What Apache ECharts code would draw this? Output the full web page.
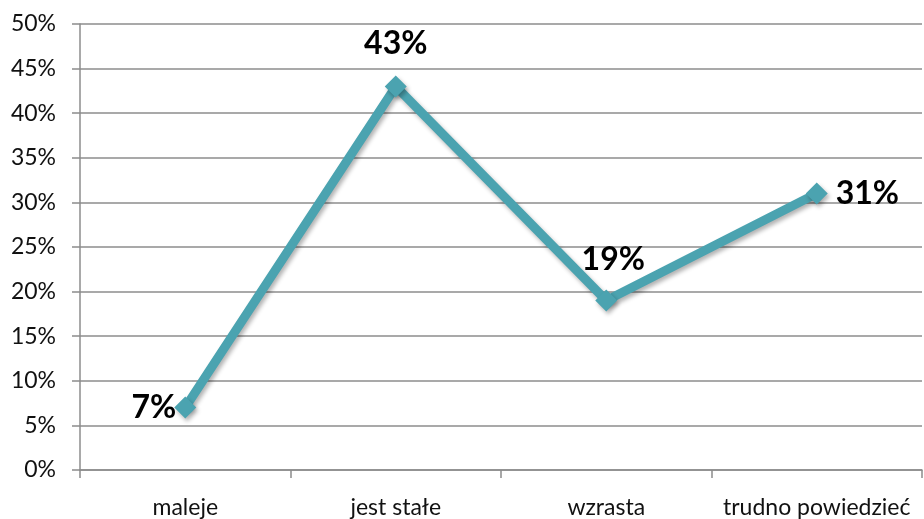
<!DOCTYPE html>
<html><head><meta charset="utf-8">
<script src="https://cdn.jsdelivr.net/npm/echarts@6/dist/echarts.min.js"></script>
<style>html,body{margin:0;padding:0;background:#fff}#c{width:924px;height:519px}</style>
</head><body><div id="c"></div>
<script>
const categories = ['maleje', 'jest stałe', 'wzrasta', 'trudno powiedzieć'];
const values = [7, 43, 19, 31];
const labelPositions = ['left', 'top', 'top', 'right'];
const labelDistances = [-2, 16, 14, 8];
const labelOffsets = [[0, 0], [0, 0], [7, 0], [0, 0]];

const chart = echarts.init(document.getElementById('c'));
const font = 'Lato, "Open Sans", sans-serif';
chart.setOption({
  animation: false,
  grid: { left: 80, right: 2, top: 24, bottom: 48 },
  xAxis: {
    type: 'category', data: categories, boundaryGap: true,
    axisLine: { lineStyle: { color: '#8c8c8c', width: 1.5 } },
    axisTick: { show: true, interval: 0, length: 8, lineStyle: { color: '#8c8c8c', width: 1.5 } },
    axisLabel: { interval: 0, color: '#111', fontSize: 23, fontFamily: font, margin: 26 }
  },
  yAxis: {
    type: 'value', min: 0, max: 50, interval: 5,
    axisLine: { show: true, lineStyle: { color: '#8c8c8c', width: 1.5 } },
    axisTick: { show: true, length: 8, lineStyle: { color: '#8c8c8c', width: 1.5 } },
    splitLine: { lineStyle: { color: '#8c8c8c', width: 1.5 } },
    axisLabel: { formatter: '{value}%', color: '#111', fontSize: 23, fontFamily: font, margin: 24 }
  },
  series: [{
    type: 'line',
    data: values.map((v, i) => ({ value: v, label: { position: labelPositions[i], distance: labelDistances[i], offset: labelOffsets[i] } })),
    symbol: 'diamond', symbolSize: 22,
    lineStyle: { color: '#4ba3b0', width: 9, shadowColor: 'rgba(0,0,0,0.3)', shadowBlur: 4, shadowOffsetX: 2, shadowOffsetY: 3 },
    itemStyle: { color: '#4ba3b0', shadowColor: 'rgba(0,0,0,0.3)', shadowBlur: 4, shadowOffsetX: 2, shadowOffsetY: 3 },
    label: { show: true, formatter: '{c}%', fontSize: 32, fontWeight: 'bold', color: '#000', fontFamily: font }
  }]
});
</script></body></html>
